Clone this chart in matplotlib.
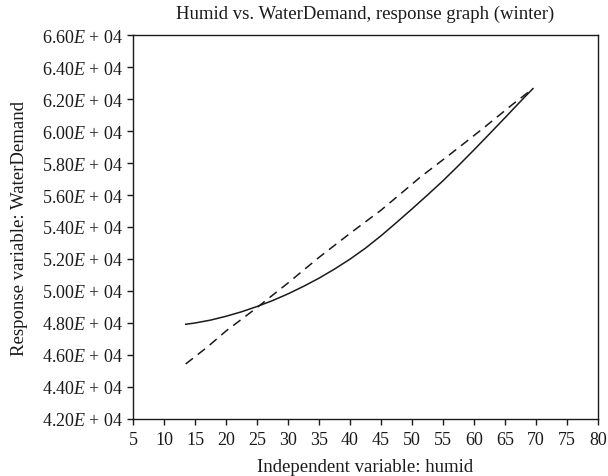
import matplotlib
matplotlib.use("Agg")
import matplotlib.pyplot as plt
import numpy as np

plt.rcParams['font.family'] = ['Liberation Serif', 'DejaVu Serif']
plt.rcParams['mathtext.fontset'] = 'custom'
plt.rcParams['mathtext.rm'] = 'Liberation Serif'
plt.rcParams['mathtext.it'] = 'Liberation Serif:italic'

title = "Humid vs. WaterDemand, response graph (winter)"
xlabel = "Independent variable: humid"
ylabel = "Response variable: WaterDemand"

solid_x = [13.5, 15, 17.5, 20, 22.5, 25, 27.5, 30, 32.5, 35, 37.5, 40, 42.5,
           45, 47.5, 50, 52.5, 55, 57.5, 60, 62.5, 65, 67.5, 69.5]
solid_y = [47920, 48000, 48180, 48420, 48700, 49030, 49400, 49820, 50290, 50800,
           51370, 51990, 52680, 53450, 54280, 55130, 56000, 56890, 57840, 58820,
           59820, 60830, 61850, 62650]

dash_x = [13.5, 17, 20, 24.7, 30, 32.4, 35, 40, 45, 49, 51.3, 56, 61, 66.3, 69.5]
dash_y = [45440, 46500, 47500, 48875, 50500, 51270, 52100, 53600, 55050, 56350,
          57104, 58500, 60021, 61687, 62650]

xticks = list(range(5, 81, 5))
yticks = [42000, 44000, 46000, 48000, 50000, 52000, 54000, 56000, 58000, 60000, 62000, 64000, 66000]
ytick_labels = [r"%.2f$\mathit{E}$ + 04" % (v / 1e4) for v in yticks]

fig = plt.figure(figsize=(6.08, 4.77), dpi=100)
ax = fig.add_axes([133/608, 1 - 420/477, (598-133)/608, (420-36)/477])

ax.plot(solid_x, solid_y, color='#1a1a1a', lw=1.1)
ax.plot(dash_x, dash_y, color='#1a1a1a', lw=1.1, dashes=(6, 4))

ax.set_xlim(5, 80)
ax.set_ylim(42000, 66000)
ax.set_xticks(xticks)
ax.set_xticklabels([str(t) for t in xticks])
ax.set_yticks(yticks)
ax.set_yticklabels(ytick_labels)
ax.tick_params(direction='out', length=4, width=1, labelsize=13, colors='#1a1a1a', pad=3)
ax.tick_params(axis='x', pad=5)
for s in ax.spines.values():
    s.set_linewidth(1.0)
    s.set_color('#1a1a1a')

ax.set_title(title, fontsize=13.5, pad=12, color='#1a1a1a')
ax.set_xlabel(xlabel, fontsize=13.5, labelpad=7, color='#1a1a1a')
ax.set_ylabel(ylabel, fontsize=13.5, labelpad=10, color='#1a1a1a')

fig.savefig("out.png", dpi=100)
